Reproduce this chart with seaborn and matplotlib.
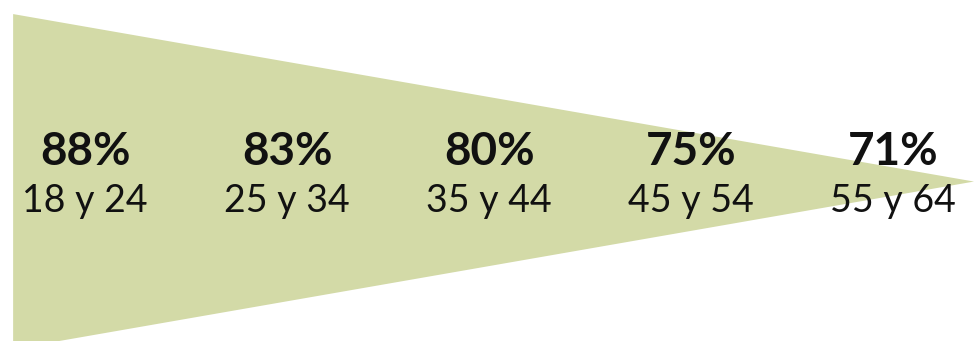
import matplotlib
matplotlib.use("Agg")
import matplotlib.pyplot as plt
import seaborn as sns

# Data
percentages = [88, 83, 80, 75, 71]
age_groups = ["18 y 24", "25 y 34", "35 y 44", "45 y 54", "55 y 64"]

sns.set_style("white")
plt.rcParams['font.family'] = ['Lato', 'DejaVu Sans']

fig = plt.figure(figsize=(9.74, 3.41), dpi=100)
ax = fig.add_axes([0, 0, 1, 1])
n = len(percentages)
positions = list(range(n))

# funnel (triangle) spanning the categories
left = positions[0] - 0.357
apex = positions[-1] + 0.40
ax.fill([left, apex, left], [1, 0, -1], color="#D3DAA7", lw=0, zorder=1)

for i, (p, lab) in enumerate(zip(percentages, age_groups)):
    ax.text(i, 0.10, f"{p}%", ha="center", va="baseline", fontsize=33,
            fontweight="bold", color="#111111", zorder=3)
    ax.text(i, -0.18, lab, ha="center", va="baseline", fontsize=27,
            color="#111111", zorder=3)

ax.set_xlim(-0.422, 4.40)
ax.set_ylim(-0.952, 1.084)
ax.axis("off")
fig.savefig("out.png", dpi=100)
